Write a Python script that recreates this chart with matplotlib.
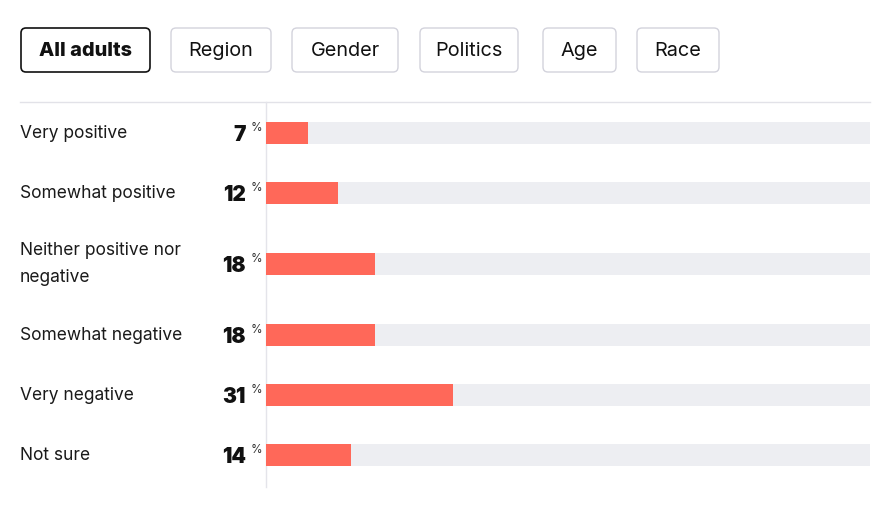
import matplotlib.pyplot as plt
from matplotlib.patches import FancyBboxPatch

plt.rcParams['font.family'] = ['Inter', 'DejaVu Sans']

# data
tabs = ["All adults", "Region", "Gender", "Politics", "Age", "Race"]
categories = ["Very positive", "Somewhat positive", "Neither positive nor\nnegative",
              "Somewhat negative", "Very negative", "Not sure"]
values = [7, 12, 18, 18, 31, 14]

W, H = 892, 508
fig = plt.figure(figsize=(W / 100, H / 100), dpi=100)

# overlay axes in pixel coordinates
ov = fig.add_axes([0, 0, 1, 1])
ov.set_xlim(0, W)
ov.set_ylim(H, 0)
ov.axis('off')

# tab buttons
tab_x = [21, 171, 292, 420, 543, 637]
tab_w = [129, 100, 106, 98, 73, 82]
for i, (t, x, w) in enumerate(zip(tabs, tab_x, tab_w)):
    active = i == 0
    box = FancyBboxPatch((x, 28), w, 44, boxstyle="round,pad=0,rounding_size=5",
                         fc='white', ec='#111111' if active else '#d3d3dc',
                         lw=1.2 if active else 1.0)
    ov.add_patch(box)
    ov.text(x + w / 2, 51, t, ha='center', va='center', fontsize=14.3,
            fontweight='heavy' if active else 'normal', color='#111111')

# separator lines
ov.plot([20, 870], [102, 102], color='#e2e2e8', lw=1)
ov.plot([266, 266], [102, 487], color='#e4e4ea', lw=1)

# row layout from label line counts
top = 103
centers = []
for c in categories:
    h = 38 + 22 * (c.count('\n') + 1)
    centers.append(top + h / 2)
    top += h

# bars axes: x in percent
bx0, bx1, by0, by1 = 266, 870, 103, top
bax = fig.add_axes([bx0 / W, 1 - by1 / H, (bx1 - bx0) / W, (by1 - by0) / H])
bax.set_xlim(0, 100)
bax.set_ylim(by1, by0)
bax.axis('off')
bax.barh(centers, [100] * len(values), height=22, color='#edeef2', lw=0)
bax.barh(centers, values, height=22, color='#ff6859', lw=0)

for c, v, y in zip(categories, values, centers):
    ov.text(20, y, c, ha='left', va='center', fontsize=12.5, color='#1a1a1a',
            linespacing=1.8)
    ov.text(246, y + 2, str(v), ha='right', va='center', fontsize=15,
            fontweight='black', color='#111111')
    ov.text(251, y - 5, '%', ha='left', va='center', fontsize=8.5, color='#333333')

fig.savefig('out.png', dpi=100)
